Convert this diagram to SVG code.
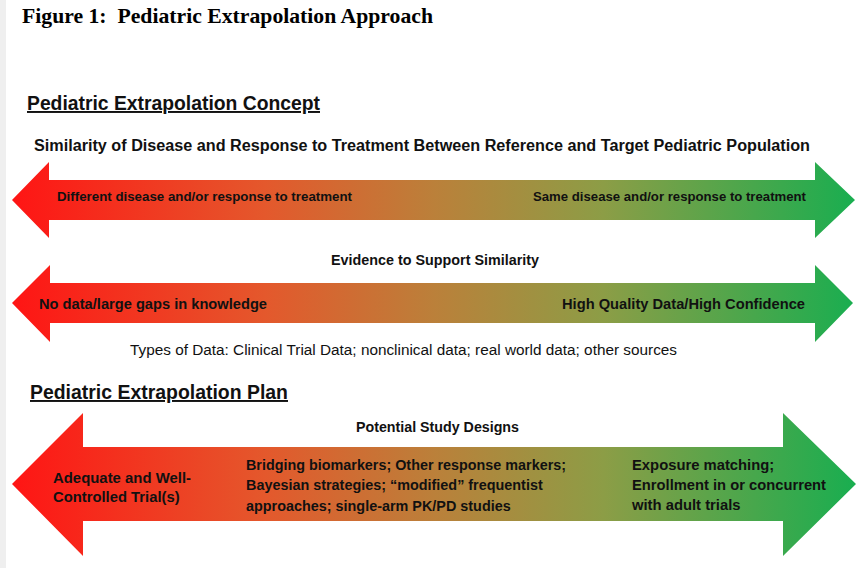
<svg xmlns="http://www.w3.org/2000/svg" width="865" height="568" viewBox="0 0 865 568">
<defs>
<linearGradient id="g" gradientUnits="userSpaceOnUse" x1="10" y1="0" x2="858" y2="0">
<stop offset="0" stop-color="#ff1414"/>
<stop offset="0.3" stop-color="#e4582c"/>
<stop offset="0.5" stop-color="#bb803a"/>
<stop offset="0.7" stop-color="#8c9d46"/>
<stop offset="1" stop-color="#18ae50"/>
</linearGradient>
<style>
.t{font-family:"Liberation Serif","Times New Roman",serif;font-weight:bold;fill:#000;white-space:pre}
.h{font-family:"Liberation Sans",Arial,sans-serif;font-weight:bold;font-size:19.4px;fill:#111;text-decoration:underline}
.s{font-family:"Liberation Sans",Arial,sans-serif;font-weight:bold;fill:#111}
.r{font-family:"Liberation Sans",Arial,sans-serif;fill:#111}
.a{fill:url(#g)}
</style>
</defs>
<rect width="865" height="568" fill="#fff"/>
<rect width="6" height="568" fill="#efefef"/>
<text class="t" x="22" y="23" font-size="21.5" xml:space="preserve" textLength="411" lengthAdjust="spacingAndGlyphs">Figure 1:  Pediatric Extrapolation Approach</text>
<text class="h" x="27" y="110" textLength="293" lengthAdjust="spacingAndGlyphs">Pediatric Extrapolation Concept</text>
<text class="s" x="34" y="151" font-size="16" textLength="776" lengthAdjust="spacingAndGlyphs">Similarity of Disease and Response to Treatment Between Reference and Target Pediatric Population</text>
<g id="arrow1">
<polygon class="a" points="12,200 49,162 49,180 815,180 815,162 855,200 815,238 815,220 49,220 49,238"/>
<text class="s" x="57" y="201" font-size="13.3" textLength="295" lengthAdjust="spacingAndGlyphs">Different disease and/or response to treatment</text>
<text class="s" x="533" y="201" font-size="13.3" textLength="273" lengthAdjust="spacingAndGlyphs">Same disease and/or response to treatment</text>
</g>
<text class="s" x="331" y="265" font-size="14.3" textLength="208" lengthAdjust="spacingAndGlyphs">Evidence to Support Similarity</text>
<g id="arrow2">
<polygon class="a" points="12,303 50,265 50,283 815,283 815,265 853,303 815,342 815,323 50,323 50,342"/>
<text class="s" x="39" y="309" font-size="14.7" textLength="228" lengthAdjust="spacingAndGlyphs">No data/large gaps in knowledge</text>
<text class="s" x="562" y="309" font-size="14.7" textLength="243" lengthAdjust="spacingAndGlyphs">High Quality Data/High Confidence</text>
</g>
<text class="r" x="130" y="355" font-size="15.3" textLength="547" lengthAdjust="spacingAndGlyphs">Types of Data: Clinical Trial Data; nonclinical data; real world data; other sources</text>
<text class="h" x="30" y="399" textLength="258" lengthAdjust="spacingAndGlyphs">Pediatric Extrapolation Plan</text>
<g id="arrow3">
<polygon class="a" points="12,484 83,413 83,447 783,447 783,413 856,484 783,556 783,521 83,521 83,556"/>
<text class="s" x="356" y="432" font-size="14.3" textLength="163" lengthAdjust="spacingAndGlyphs">Potential Study Designs</text>
<text class="s" x="53" y="483" font-size="14.8" textLength="138" lengthAdjust="spacingAndGlyphs">Adequate and Well-</text>
<text class="s" x="53" y="502" font-size="14.8">Controlled Trial(s)</text>
<text class="s" x="246" y="470" font-size="14.4" textLength="320" lengthAdjust="spacingAndGlyphs">Bridging biomarkers; Other response markers;</text>
<text class="s" x="246" y="490" font-size="14.4">Bayesian strategies; “modified” frequentist</text>
<text class="s" x="246" y="511" font-size="14.4">approaches; single-arm PK/PD studies</text>
<text class="s" x="632" y="470" font-size="14.8">Exposure matching;</text>
<text class="s" x="632" y="490" font-size="14.8" textLength="194" lengthAdjust="spacingAndGlyphs">Enrollment in or concurrent</text>
<text class="s" x="632" y="510" font-size="14.8">with adult trials</text>
</g>
</svg>
